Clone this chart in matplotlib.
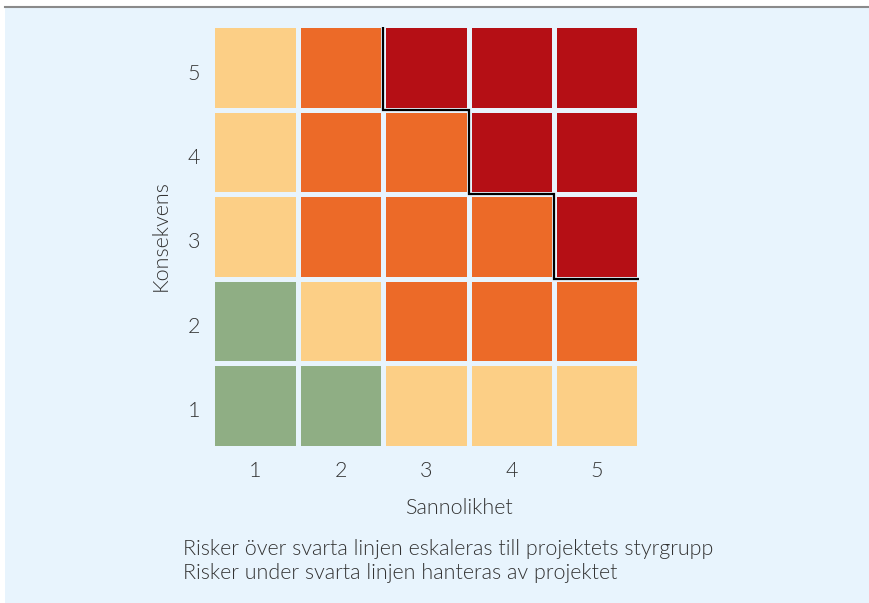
import matplotlib.pyplot as plt
import matplotlib.transforms as mtransforms
import numpy as np
from matplotlib.colors import ListedColormap
from matplotlib.lines import Line2D
from matplotlib.patches import Rectangle

sannolikhet = [1, 2, 3, 4, 5]
konsekvens = [1, 2, 3, 4, 5]
# risk level per cell: rows = konsekvens 1..5, cols = sannolikhet 1..5
# 0 = low (green), 1 = light, 2 = orange, 3 = escalate (red)
levels = np.array(
    [
        [0, 0, 1, 1, 1],
        [0, 1, 2, 2, 2],
        [1, 2, 2, 2, 3],
        [1, 2, 2, 3, 3],
        [1, 2, 3, 3, 3],
    ]
)
level_colors = ["#8fae84", "#fccf86", "#ec6a28", "#b50f15"]
notes = [
    "Risker över svarta linjen eskaleras till projektets styrgrupp",
    "Risker under svarta linjen hanteras av projektet",
]

BG = "#e8f4fd"
TEXT = "#333333"
FS = 15.5
W, H = 870, 603

plt.rcParams["font.family"] = ["Lato", "DejaVu Sans"]
plt.rcParams["font.weight"] = 300

fig = plt.figure(figsize=(W / 100, H / 100), dpi=100, facecolor="white")
fig.patches.append(
    Rectangle((5 / W, 0), 1 - 5 / W, 1 - 7 / H, transform=fig.transFigure,
              facecolor=BG, edgecolor="none", zorder=-10)
)
fig.lines.append(
    Line2D([5 / W, 1], [1 - 6.5 / H] * 2, transform=fig.transFigure,
           color="#8a8a8a", linewidth=1.5, zorder=-5)
)

ax = fig.add_axes([212.5 / W, 1 - 447.5 / H, 427 / W, 422 / H])
ax.set_facecolor("none")

x_edges = np.arange(len(sannolikhet) + 1) + 0.5
y_edges = np.arange(len(konsekvens) + 1) + 0.5
ax.pcolormesh(x_edges, y_edges, levels, cmap=ListedColormap(level_colors),
              vmin=-0.5, vmax=3.5, edgecolors=BG, linewidth=2.3)

# escalation boundary: step line above the non-red cells
red = levels == 3
xs, ys = [], []
for c, s in enumerate(sannolikhet):
    rows = np.where(red[:, c])[0]
    if rows.size == 0:
        continue
    t = konsekvens[rows.min()] - 0.5
    if not xs:
        xs.append(s - 0.5)
        ys.append(konsekvens[-1] + 0.5)
    xs += [s - 0.5, s + 0.5]
    ys += [t, t]
# trim a touch so the line stays inside the grid like the original
ys[0] -= 0.015
xs[-1] -= 0.01
ax.plot(xs, ys, color="black", linewidth=1.6, zorder=5,
        solid_joinstyle="miter", solid_capstyle="butt", clip_on=False)

ax.set_xlim(x_edges[0], x_edges[-1])
ax.set_ylim(y_edges[0], y_edges[-1])
ax.set_xticks(sannolikhet)
ax.set_yticks(konsekvens)
for spine in ax.spines.values():
    spine.set_visible(False)
ax.tick_params(axis="both", length=0, labelsize=FS, labelcolor=TEXT)
ax.tick_params(axis="x", pad=10)
ax.tick_params(axis="y", pad=9)
shift = mtransforms.ScaledTranslation(0, -4 / 100, fig.dpi_scale_trans)
for lbl in ax.get_yticklabels():
    lbl.set_transform(lbl.get_transform() + shift)

fig.text(459 / W, 1 - 508 / H, "Sannolikhet", ha="center", va="center",
         fontsize=FS, color=TEXT)
fig.text(161 / W, 1 - 236 / H, "Konsekvens", ha="center", va="center",
         rotation=90, fontsize=FS, color=TEXT)
for i, note in enumerate(notes):
    fig.text(183 / W, 1 - (549 + 24 * i) / H, note, ha="left", va="center",
             fontsize=FS, color=TEXT)

fig.savefig("out.png", dpi=100, facecolor=fig.get_facecolor())
